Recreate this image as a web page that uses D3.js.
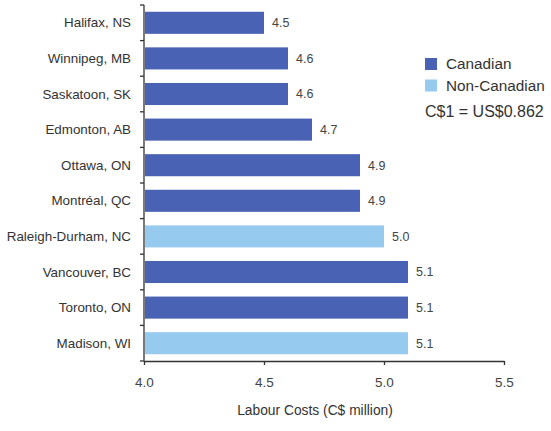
<!DOCTYPE html>
<html><head><meta charset="utf-8">
<script src="https://cdn.jsdelivr.net/npm/d3@7"></script>
<style>body{margin:0;background:#fff}svg{display:block}text{font-family:"Liberation Sans",Arial,sans-serif}</style>
</head><body><svg id="c" width="551" height="431"></svg>
<script>
const cities = ["Halifax, NS","Winnipeg, MB","Saskatoon, SK","Edmonton, AB","Ottawa, ON","Montréal, QC","Raleigh-Durham, NC","Vancouver, BC","Toronto, ON","Madison, WI"];
const costs = [4.5,4.6,4.6,4.7,4.9,4.9,5.0,5.1,5.1,5.1];
const groups = ["Canadian","Canadian","Canadian","Canadian","Canadian","Canadian","Non-Canadian","Canadian","Canadian","Non-Canadian"];
const legendLabels = ["Canadian","Non-Canadian"];
const xTicks = [4.0,4.5,5.0,5.5];
const data = cities.map((c,i)=>({city:c,value:costs[i],group:groups[i]}));

const svg = d3.select("#c");
const x = d3.scaleLinear().domain([4.0,5.5]).range([144,504]);
const y = d3.scaleBand().domain(cities).range([5,361]).paddingInner(0.38).paddingOuter(0.19);
const color = d3.scaleOrdinal().domain(legendLabels).range(["#4a62b4","#96cbef"]);

svg.selectAll("rect.bar").data(data).join("rect").attr("class","bar")
  .attr("x",x(4.0)+1).attr("y",d=>y(d.city)).attr("width",d=>x(d.value)-x(4.0)-1)
  .attr("height",y.bandwidth()).attr("fill",d=>color(d.group));

svg.selectAll("text.val").data(data).join("text").attr("class","val")
  .attr("x",d=>x(d.value)+8).attr("y",d=>y(d.city)+y.bandwidth()/2).attr("dy","0.35em")
  .attr("font-size",12.5).attr("fill","#444").text(d=>d3.format(".1f")(d.value));

// y axis
const yAxis = svg.append("g");
yAxis.append("line").attr("x1",144).attr("x2",144).attr("y1",5).attr("y2",361).attr("stroke","#333").attr("stroke-width",1.3);
const step = y.step();
const bounds = d3.range(cities.length+1).map(i=>5+i*step);
yAxis.selectAll("line.t").data(bounds).join("line").attr("class","t")
  .attr("x1",140).attr("x2",144).attr("y1",d=>d).attr("y2",d=>d).attr("stroke","#333").attr("stroke-width",1.3);
yAxis.selectAll("text").data(cities).join("text")
  .attr("x",131).attr("y",d=>y(d)+y.bandwidth()/2).attr("dy","0.35em")
  .attr("text-anchor","end").attr("font-size",13.4).attr("fill","#333").text(d=>d);

// x axis
const xAxis = svg.append("g").attr("transform","translate(0,361)")
  .call(d3.axisBottom(x).tickValues(xTicks).tickFormat(d3.format(".1f")).tickSize(4).tickSizeOuter(0));
xAxis.select(".domain").attr("stroke","#333").attr("stroke-width",1.3);
xAxis.selectAll(".tick line").attr("stroke","#333").attr("stroke-width",1.3);
xAxis.selectAll(".tick text").attr("font-size",13.5).attr("fill","#444").attr("font-family","Liberation Sans, Arial, sans-serif").attr("y",16);

svg.append("text").attr("x",315).attr("y",415).attr("text-anchor","middle").attr("font-size",13.8).attr("fill","#333").text("Labour Costs (C$ million)");

// legend
const lg = svg.append("g");
legendLabels.forEach((l,i)=>{
  lg.append("rect").attr("x",425).attr("y",58+i*21.5).attr("width",12).attr("height",12).attr("fill",color(l));
  lg.append("text").attr("x",446).attr("y",64+i*21.5).attr("dy","0.35em").attr("font-size",15.3).attr("fill","#333").text(l);
});
lg.append("text").attr("x",425).attr("y",117).attr("font-size",16).attr("fill","#333")
  .attr("font-family","'Liberation Sans Narrow', 'Arial Narrow', sans-serif").text("C$1 = US$0.862");
</script></body></html>
